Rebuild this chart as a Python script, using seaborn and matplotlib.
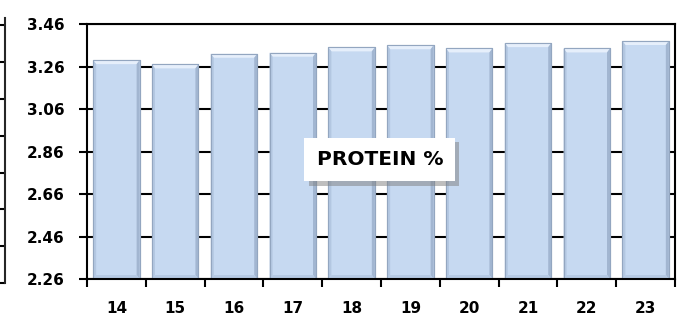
import matplotlib
matplotlib.use("Agg")
import matplotlib.pyplot as plt
import matplotlib.patheffects as pe
from matplotlib.patches import Polygon
from matplotlib.ticker import FixedLocator, FixedFormatter
import seaborn as sns
import pandas as pd
import numpy as np

categories = ["14", "15", "16", "17", "18", "19", "20", "21", "22", "23"]
protein = [3.29, 3.27, 3.32, 3.325, 3.35, 3.36, 3.345, 3.37, 3.345, 3.38]
ytick_values = [2.26, 2.46, 2.66, 2.86, 3.06, 3.26, 3.46]
title_text = "PROTEIN %"

sns.set_theme(style="white")
plt.rcParams["font.family"] = ["DejaVu Sans"]

df = pd.DataFrame({"cat": categories, "val": protein})

fig = plt.figure(figsize=(6.82, 3.18), dpi=100)
ax = fig.add_axes([87 / 682, 1 - 279 / 318, 588 / 682, 255 / 318])

sns.barplot(data=df, x="cat", y="val", ax=ax, color="#C6D9F1", width=0.79,
            edgecolor="#93A6C0", linewidth=0.8, saturation=1, zorder=3)

ax.set_ylim(ytick_values[0], ytick_values[-1])
ax.set_xlim(-0.5, len(categories) - 0.5)

# bevel shading derived from the bar patches
ybot = ytick_values[0]
dx = 3.0 / (588 / len(categories))
dy = 4.0 / (255 / (ytick_values[-1] - ytick_values[0]))
for p in list(ax.patches):
    x0 = p.get_x()
    x1 = x0 + p.get_width()
    y1 = p.get_y() + p.get_height()
    faces = [
        ([(x0, y1), (x1, y1), (x1 - dx, y1 - dy), (x0 + dx, y1 - dy)], "#E6EFFB"),
        ([(x0, y1), (x0 + dx, y1 - dy), (x0 + dx, ybot + dy), (x0, ybot)], "#B3C7E1"),
        ([(x1, y1), (x1 - dx, y1 - dy), (x1 - dx, ybot + dy), (x1, ybot)], "#A2B6D1"),
        ([(x0, ybot), (x1, ybot), (x1 - dx, ybot + dy), (x0 + dx, ybot + dy)], "#B6CAE4"),
    ]
    for verts, c in faces:
        ax.add_patch(Polygon(verts, closed=True, facecolor=c, edgecolor="none", zorder=3.5))
    ax.add_patch(Polygon([(x0, ybot), (x0, y1), (x1, y1), (x1, ybot)], closed=True,
                         facecolor="none", edgecolor="#93A6C0", linewidth=0.8, zorder=3.6))

ax.yaxis.set_major_locator(FixedLocator(ytick_values))
ax.yaxis.set_major_formatter(FixedFormatter([f"{v:.2f}" for v in ytick_values]))
ax.grid(axis="y", color="black", linewidth=1.5, zorder=0)
ax.set_axisbelow(True)
ax.set_xlabel("")
ax.set_ylabel("")

for s in ax.spines.values():
    s.set_visible(True)
    s.set_color("black")
    s.set_linewidth(1.5)
    s.set_zorder(5)

ax.tick_params(axis="y", which="major", direction="out", length=6, width=1.5,
               color="black", pad=10, labelsize=11, left=True)
ax.tick_params(axis="x", which="major", length=0, pad=16, labelsize=11)
ax.set_xticks(np.arange(-0.5, len(categories), 1.0), minor=True)
ax.tick_params(axis="x", which="minor", direction="out", length=6, width=1.5,
               color="black", bottom=True)
for lab in ax.get_xticklabels() + ax.get_yticklabels():
    lab.set_fontweight("bold")
    lab.set_color("black")

t = ax.text(0.498, 0.467, title_text, transform=ax.transAxes, ha="center", va="center",
            fontsize=14.5, fontweight="bold", color="black", zorder=10,
            bbox=dict(boxstyle="square,pad=0.6", facecolor="white", edgecolor="none"))
t.get_bbox_patch().set_path_effects([
    pe.withSimplePatchShadow(offset=(3, -3), shadow_rgbFace="#7f7f7f", alpha=0.5)])

# fragment of neighbouring chart at left edge
ax2 = fig.add_axes([4.5 / 682, 1 - 283 / 318, 0.001, 265 / 318])
ax2.set_ylim(0, 7.2)
ax2.set_yticks(np.arange(0, 8, 1.0))
ax2.set_yticklabels([])
ax2.set_xticks([])
for k, s in ax2.spines.items():
    s.set_visible(k == "left")
ax2.spines["left"].set_linewidth(1.5)
ax2.tick_params(axis="y", direction="out", length=5, width=1.5, color="black", left=True)
ax2.patch.set_alpha(0)

fig.savefig("out.png", dpi=100)
